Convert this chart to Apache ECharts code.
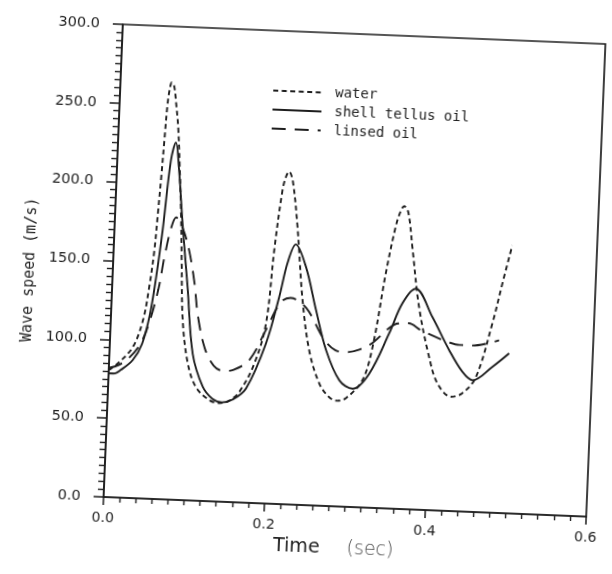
<!DOCTYPE html>
<html>
<head>
<meta charset="utf-8">
<title>Wave speed vs time</title>
<script src="https://cdn.jsdelivr.net/npm/echarts@6/dist/echarts.min.js"></script>
<style>
  html, body { margin: 0; padding: 0; background: #fff; overflow: hidden; }
  /* the plotted sheet sits slightly skewed on the page */
  #chart { width: 612px; height: 574px; transform: rotate(2.33deg); transform-origin: 355px 270.5px; }
</style>
</head>
<body>
<div id="chart"></div>
<script>
// Time (s) and wave speed (m/s) for each working fluid
const timeWater = [0.000, 0.013, 0.029, 0.040, 0.046, 0.0505, 0.053, 0.0555, 0.0575, 0.0595, 0.0615, 0.0638,
  0.067, 0.070, 0.074, 0.078, 0.082, 0.085, 0.0893, 0.0977, 0.109, 0.1265, 0.139, 0.150, 0.163, 0.1804,
  0.1928, 0.1994, 0.2066, 0.2105, 0.2139, 0.219, 0.2271, 0.237, 0.2479, 0.262, 0.275, 0.285, 0.296, 0.3152,
  0.3263, 0.339, 0.349, 0.3545, 0.3584, 0.364, 0.371, 0.382, 0.397, 0.4087, 0.426, 0.440, 0.456, 0.4738,
  0.4842, 0.4946];
const speedWater = [80.5, 86, 96, 113, 134, 157, 180, 205, 228, 250, 260, 264.5,
  262, 252, 236, 210, 180, 152, 114, 87, 72, 64, 62.5, 64, 70, 88.5,
  114, 161, 199, 208, 211, 205, 176, 130, 98, 77.5, 69, 67, 69, 80.5,
  102, 149, 179, 189, 192, 188, 165, 128.5, 97, 80.5, 72.5, 75, 85.5, 120,
  145.5, 170];

const timeShell = [0.000, 0.006, 0.015, 0.0293, 0.040, 0.048, 0.054, 0.0599, 0.0666, 0.0719, 0.077, 0.0843,
  0.0937, 0.1034, 0.1174, 0.130, 0.142, 0.155, 0.1714, 0.1938, 0.208, 0.2165, 0.2259, 0.2396, 0.2542,
  0.2686, 0.2867, 0.3036, 0.3235, 0.3462, 0.3612, 0.3771, 0.399, 0.4215, 0.4391, 0.452, 0.476, 0.4961];
const speedShell = [78.5, 78.5, 81, 87.5, 98, 116, 140, 171, 215, 226.5, 210, 175,
  135, 93, 72.5, 65, 63, 65, 72.5, 101.5, 131.5, 153, 165, 151, 124,
  99, 80, 75, 85, 111, 130.5, 140, 122.5, 102, 88.5, 83.5, 92.5, 101.5];

const timeLinsed = [0.000, 0.012, 0.025, 0.038, 0.048, 0.0575, 0.0634, 0.0702, 0.076, 0.085, 0.094, 0.102,
  0.108, 0.118, 0.130, 0.1415, 0.155, 0.174, 0.193, 0.210, 0.222, 0.242, 0.265, 0.280, 0.292, 0.310,
  0.327, 0.345, 0.356, 0.370, 0.385, 0.404, 0.420, 0.434, 0.450, 0.471, 0.483];
const speedLinsed = [82, 84, 89, 98, 112, 133, 153.5, 172, 179, 172, 158, 138,
  117, 97, 86, 83, 84, 90.5, 110, 128, 131, 125, 106, 99, 98, 100,
  105, 114, 117.5, 118, 114, 110, 107, 105.5, 105.5, 107.5, 109.5];

const seriesNames = ['water', 'shell tellus oil', 'linsed oil'];

const ink = '#1e1e1e';
const mono = 'DejaVu Sans Mono';
const sans = 'DejaVu Sans';
const pairs = (xs, ys) => xs.map((x, i) => [x, ys[i]]);

const chart = echarts.init(document.getElementById('chart'), null, { renderer: 'canvas' });

const lineSeries = (name, xs, ys, dash) => ({
  name,
  type: 'line',
  data: pairs(xs, ys),
  symbol: 'none',
  showSymbol: false,
  smooth: 0.35,
  lineStyle: { color: ink, width: 1.9, type: dash },
  itemStyle: { color: ink },
  emphasis: { disabled: true }
});

chart.setOption({
  backgroundColor: '#fff',
  animation: false,
  grid: {
    left: 113, top: 34, width: 483, height: 473,
    show: true, borderColor: ink, borderWidth: 1.7, backgroundColor: 'transparent'
  },
  legend: {
    data: seriesNames,
    orient: 'vertical',
    left: 265, top: 87,
    padding: 0,
    itemWidth: 49, itemHeight: 14, itemGap: 5,
    itemStyle: { opacity: 0, borderWidth: 0 },
    textStyle: { fontFamily: mono, fontSize: 14, color: ink, padding: [0, 0, 0, 8] }
  },
  xAxis: {
    type: 'value', min: 0, max: 0.6, interval: 0.2,
    axisLine: { show: true, onZero: false, lineStyle: { color: ink, width: 1.7 } },
    axisTick: { show: true, inside: false, length: 8, lineStyle: { color: ink, width: 1.5 } },
    minorTick: { show: true, splitNumber: 10, length: 5, lineStyle: { color: ink, width: 1.4 } },
    splitLine: { show: false }, minorSplitLine: { show: false },
    axisLabel: { formatter: v => v.toFixed(1), margin: 14, color: ink, fontFamily: sans, fontSize: 14 },
    name: '{t|Time}{s|(sec)}',
    nameLocation: 'middle', nameGap: 33,
    nameTextStyle: {
      padding: [0, 20, 0, 0],
      rich: {
        t: { fontFamily: sans, fontSize: 19, color: ink },
        s: { fontFamily: sans, fontSize: 19, color: '#4a4a4a', fontWeight: 'lighter', padding: [0, 0, 0, 27] }
      }
    }
  },
  yAxis: {
    type: 'value', min: 0, max: 300, interval: 50,
    axisLine: { show: true, onZero: false, lineStyle: { color: ink, width: 1.7 } },
    axisTick: { show: true, inside: false, length: 10, lineStyle: { color: ink, width: 1.5 } },
    minorTick: { show: true, splitNumber: 10, length: 6, lineStyle: { color: ink, width: 1.4 } },
    splitLine: { show: false }, minorSplitLine: { show: false },
    axisLabel: { formatter: v => v.toFixed(1), margin: 23, color: ink, fontFamily: sans, fontSize: 14.5 },
    name: 'Wave speed (m/s)',
    nameLocation: 'middle', nameGap: 75,
    nameTextStyle: { fontFamily: mono, fontSize: 15, color: ink, padding: [0, 25, 0, 0] }
  },
  series: [
    lineSeries(seriesNames[0], timeWater, speedWater, [5, 3.5]),
    lineSeries(seriesNames[1], timeShell, speedShell, 'solid'),
    lineSeries(seriesNames[2], timeLinsed, speedLinsed, [14, 9])
  ]
});
</script>
</body>
</html>
